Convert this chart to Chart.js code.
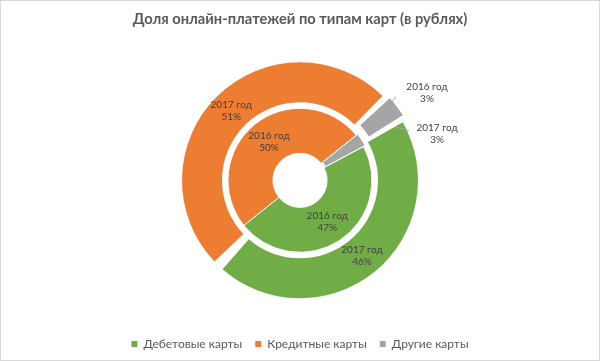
<!DOCTYPE html>
<html>
<head>
<meta charset="utf-8">
<script src="https://cdn.jsdelivr.net/npm/chart.js@4"></script>
<style>
  body { margin: 0; background: #fff; }
  #wrap { width: 600px; height: 361px; box-sizing: border-box; border: 1px solid #d9d9d9; }
</style>
</head>
<body>
<div id="wrap"><canvas id="cardsChart"></canvas></div>
<script>
// data
const categories = ['Дебетовые карты', 'Кредитные карты', 'Другие карты'];
const share2017 = [46, 51, 3];
const share2016 = [47, 50, 3];
const colors = ['#70AD47', '#ED7D31', '#A5A5A5'];

// where the small "other" slices get their labels (relative to the slice centre)
const callouts = {
    '2017 год': { dx: 56, dy: 15, from: [28, 12], to: [14, 9] },
    '2016 год': { dx: 84, dy: -59, from: [53, -55], to: [39, -38] }
};

// draws "год / %" labels on the slices
const sliceLabels = {
    id: 'sliceLabels',
    afterDatasetsDraw(chart) {
        const ctx = chart.ctx;
        ctx.save();
        ctx.font = '10px Lato';
        ctx.fillStyle = '#404040';
        ctx.textAlign = 'center';
        ctx.textBaseline = 'middle';
        chart.data.datasets.forEach((ds, di) => {
            if (!ds.year) return;
            const meta = chart.getDatasetMeta(di);
            meta.data.forEach((arc, i) => {
                const p = arc.getCenterPoint();
                let x = p.x, y = p.y;
                if (i === 2) {
                    const c = callouts[ds.year];
                    ctx.strokeStyle = '#a6a6a6';
                    ctx.lineWidth = 1;
                    ctx.beginPath();
                    ctx.moveTo(p.x + c.from[0], p.y + c.from[1]);
                    ctx.lineTo(p.x + c.to[0], p.y + c.to[1]);
                    ctx.stroke();
                    x += c.dx;
                    y += c.dy;
                }
                ctx.fillText(ds.year, x, y - 6);
                ctx.fillText(ds.data[i] + '%', x, y + 6);
            });
        });
        ctx.restore();
    }
};

new Chart(document.getElementById('cardsChart'), {
    type: 'doughnut',
    data: {
        labels: categories,
        datasets: [{
            year: '2017 год',
            data: share2017,
            backgroundColor: colors,
            borderColor: '#fff',
            borderWidth: 0,
            spacing: 6,
            offset: [0, 0, 8],
            rotation: 58,
            weight: 40
        }, {
            // blank ring between the two years
            data: [1],
            backgroundColor: 'rgba(0,0,0,0)',
            borderWidth: 0,
            weight: 3
        }, {
            year: '2016 год',
            data: share2016,
            backgroundColor: colors,
            borderColor: '#fff',
            borderWidth: 1,
            offset: [0, 0, 4],
            rotation: 62,
            weight: 45
        }]
    },
    options: {
        responsive: true,
        maintainAspectRatio: false,
        animation: false,
        radius: 115,
        cutout: '23.5%',
        layout: { padding: 0 },
        plugins: {
            title: {
                display: true,
                text: 'Доля онлайн-платежей по типам карт (в рублях)',
                color: '#595959',
                font: { family: 'Lato', size: 14.7, weight: 'bold' },
                padding: { top: 9, bottom: 8 }
            },
            legend: {
                position: 'bottom',
                labels: {
                    color: '#595959',
                    font: { family: 'Lato', size: 12 },
                    boxWidth: 6,
                    boxHeight: 6,
                    padding: 13
                }
            },
            tooltip: { enabled: false }
        }
    },
    plugins: [sliceLabels]
});
</script>
</body>
</html>
